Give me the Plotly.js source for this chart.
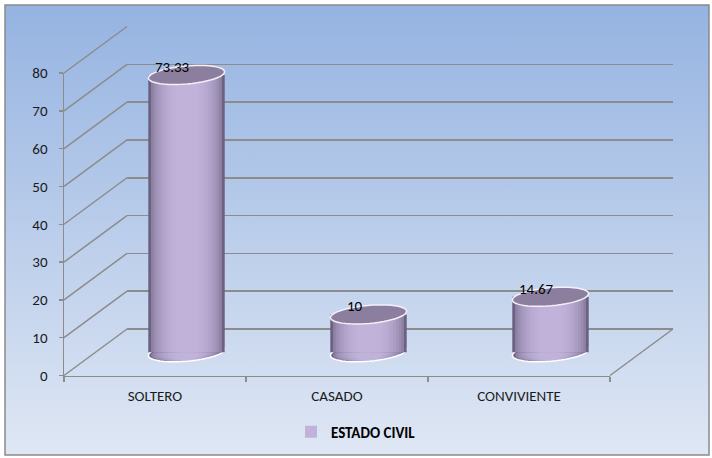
<!DOCTYPE html>
<html><head><meta charset="utf-8">
<script src="https://cdn.plot.ly/plotly-3.0.1.min.js"></script>
<style>html,body{margin:0;padding:0;background:#fff}</style>
</head><body><div id="chart" style="width:712px;height:458px"></div>
<script>
// ---- data ----
const categories = ['SOLTERO', 'CASADO', 'CONVIVIENTE'];
const values = [73.33, 10, 14.67];
const valueLabels = ['73.33', '10', '14.67'];
const seriesName = 'ESTADO CIVIL';
const yTicks = [0, 10, 20, 30, 40, 50, 60, 70, 80];

// ---- geometry (pixels) ----
const W = 712, H = 458;
const FRONT = {x0: 64, x1: 610, yb: 375.5, yt: 73};
const DEPTH = {dx: 63, dy: -46.5};
const YMAX = 80, YMIN = -6;
const scaleY = (FRONT.yb - FRONT.yt) / YMAX;
const scaleX = (FRONT.x1 - FRONT.x0) / categories.length;
const px = x => x / W, py = y => (H - y) / H;
const idx = categories.map((c, i) => i);
const BARW = 0.42;
const CAPPX = 9;                  // half height of the caps, px
const TILT = 5 * Math.PI / 180;   // cap tilt
const FONT = 'Carlito, Lato, "Open Sans", sans-serif';
const GRID = '#8c8c8c';

function domainsFor(depthFrac, yMin) {
  const dx = DEPTH.dx * depthFrac, dy = DEPTH.dy * depthFrac;
  const y0 = FRONT.yb + dy;
  return {
    x: [px(FRONT.x0 + dx), px(FRONT.x1 + dx)],
    y: [py(y0 - yMin * scaleY), py(y0 - YMAX * scaleY)]
  };
}
const dBack = domainsFor(1, YMIN);
const dMid = domainsFor(0.5, YMIN);

// tilted ellipse as a path in x3/y3 data coordinates
function capPath(cx, cy, w) {
  const a = w * scaleX / 2, b = CAPPX, n = 48;
  let d = '';
  for (let k = 0; k <= n; k++) {
    const t = 2 * Math.PI * k / n;
    const ex = a * Math.cos(t) * Math.cos(TILT) - b * Math.sin(t) * Math.sin(TILT);
    const ey = a * Math.cos(t) * Math.sin(TILT) + b * Math.sin(t) * Math.cos(TILT);
    d += (k ? ' L' : 'M') + (cx + ex / scaleX).toFixed(5) + ',' + (cy + ey / scaleY).toFixed(5);
  }
  return d + ' Z';
}

// colour helpers
function hex(c){return [1,3,5].map(i=>parseInt(c.substr(i,2),16));}
function lerp(a,b,t){const A=hex(a),B=hex(b);return 'rgb('+A.map((v,i)=>Math.round(v+(B[i]-v)*t)).join(',')+')';}
const DARK = '#6c6180', LIGHT = '#c1b2da';
const NSTRIPE = 14;
const stripes = [];
for (let k = 0; k < NSTRIPE; k++) {
  const t = 1 - k / NSTRIPE;
  const f = Math.sqrt(Math.max(0, 1 - t * t));
  stripes.push({w: BARW * t, color: lerp(DARK, LIGHT, Math.min(1, f * 1.05))});
}

// invisible carriers so the front axes and the back wall get drawn
const traces = [
  {type: 'bar', x: categories, y: values, xaxis: 'x', yaxis: 'y',
   marker: {color: 'rgba(0,0,0,0)'}, showlegend: false, hoverinfo: 'skip'},
  {type: 'scatter', mode: 'markers', x: idx, y: values, xaxis: 'x2', yaxis: 'y2',
   marker: {opacity: 0}, showlegend: false, hoverinfo: 'skip'}
];
stripes.forEach((s, k) => traces.push({
  type: 'bar', x: idx, y: values, width: s.w,
  xaxis: 'x3', yaxis: 'y3',
  marker: {color: s.color, line: {width: 0}},
  name: seriesName, showlegend: k === NSTRIPE - 1,
  hoverinfo: 'skip'
}));

// ---- shapes ----
const shapes = [];
shapes.push({type: 'rect', xref: 'paper', yref: 'paper', x0: px(5), x1: px(709), y0: py(5), y1: py(455),
  line: {color: '#8a8a8a', width: 1.5}, layer: 'below'});
yTicks.forEach(v => {
  const yf = FRONT.yb - v * scaleY;
  shapes.push({type: 'line', xref: 'paper', yref: 'paper', layer: 'below',
    x0: px(FRONT.x0), y0: py(yf), x1: px(FRONT.x0 + DEPTH.dx), y1: py(yf + DEPTH.dy),
    line: {color: GRID, width: 1.5}});
});
shapes.push({type: 'line', xref: 'paper', yref: 'paper', layer: 'below',
  x0: px(FRONT.x1), y0: py(FRONT.yb), x1: px(FRONT.x1 + DEPTH.dx), y1: py(FRONT.yb + DEPTH.dy),
  line: {color: GRID, width: 1.5}});
idx.forEach(i => {
  stripes.forEach(s => {
    shapes.push({type: 'path', xref: 'x3', yref: 'y3', layer: 'between',
      path: capPath(i, 0, s.w), fillcolor: s.color, line: {width: 0}});
  });
  shapes.push({type: 'path', xref: 'x3', yref: 'y3', layer: 'between',
    path: capPath(i, 0, BARW), fillcolor: 'rgba(0,0,0,0)', line: {color: '#ffffff', width: 1.5}});
});
values.forEach((v, i) => {
  shapes.push({type: 'path', xref: 'x3', yref: 'y3', layer: 'above',
    path: capPath(i, v, BARW), fillcolor: '#8b7e9e', line: {color: '#f4f0fa', width: 1.5}});
});

const annotations = values.map((v, i) => ({
  xref: 'x3', yref: 'y3', x: i, y: v, text: valueLabels[i], showarrow: false,
  xshift: -14, yshift: 8, font: {family: FONT, size: 15, color: '#000'}
}));

const background = '<svg xmlns="http://www.w3.org/2000/svg" width="704" height="450" preserveAspectRatio="none">' +
  '<defs><linearGradient id="g" x1="0" y1="0" x2="0" y2="1">' +
  '<stop offset="0" stop-color="#95b3e1"/><stop offset="1" stop-color="#dfe7f4"/></linearGradient></defs>' +
  '<rect width="704" height="450" fill="url(#g)"/></svg>';

const layout = {
  width: W, height: H,
  margin: {l: 0, r: 0, t: 0, b: 0},
  paper_bgcolor: '#ffffff', plot_bgcolor: 'rgba(0,0,0,0)',
  barmode: 'overlay',
  font: {family: FONT, size: 15, color: '#1a1a1a'},
  showlegend: true,
  legend: {orientation: 'h', x: 0.5, xanchor: 'center', y: py(432), yanchor: 'middle',
    bgcolor: 'rgba(0,0,0,0)', font: {family: FONT, size: 15, color: '#000', weight: 700}},
  images: [{source: 'data:image/svg+xml;charset=utf-8,' + encodeURIComponent(background),
    xref: 'paper', yref: 'paper', x: px(5), y: py(5), sizex: 704 / W, sizey: 450 / H,
    xanchor: 'left', yanchor: 'top', sizing: 'stretch', layer: 'below'}],
  xaxis: {domain: [px(FRONT.x0), px(FRONT.x1)], anchor: 'y', type: 'category',
    categoryorder: 'array', categoryarray: categories, range: [-0.5, categories.length - 0.5],
    showline: true, linecolor: GRID, linewidth: 1.5, ticks: 'outside', tickson: 'boundaries',
    ticklen: 5, tickwidth: 1.5, tickcolor: GRID, showgrid: false, zeroline: false,
    tickfont: {size: 15, color: '#1a1a1a'}, ticklabelstandoff: 6, fixedrange: true},
  yaxis: {domain: [py(FRONT.yb), py(FRONT.yt)], anchor: 'x', range: [0, YMAX],
    tickvals: yTicks, showline: true, linecolor: GRID, linewidth: 1.5, ticks: 'outside',
    ticklen: 4, tickwidth: 1.5, tickcolor: GRID, showgrid: false, zeroline: false,
    tickfont: {size: 15, color: '#1a1a1a'}, ticklabelstandoff: 8, fixedrange: true},
  xaxis2: {domain: dBack.x, anchor: 'y2', range: [-0.5, categories.length - 0.5],
    showgrid: false, zeroline: false, showline: false, showticklabels: false, ticks: '', fixedrange: true},
  yaxis2: {domain: dBack.y, anchor: 'x2', range: [YMIN, YMAX], tickvals: yTicks,
    showgrid: true, gridcolor: GRID, gridwidth: 1.5, zeroline: false, showline: false,
    showticklabels: false, ticks: '', fixedrange: true},
  xaxis3: {domain: dMid.x, anchor: 'y3', range: [-0.5, categories.length - 0.5],
    showgrid: false, zeroline: false, showline: false, showticklabels: false, ticks: '', fixedrange: true},
  yaxis3: {domain: dMid.y, anchor: 'x3', range: [YMIN, YMAX],
    showgrid: false, zeroline: false, showline: false, showticklabels: false, ticks: '', fixedrange: true},
  shapes: shapes,
  annotations: annotations
};

Plotly.newPlot('chart', traces, layout, {displayModeBar: false, staticPlot: true});
</script>
</body></html>
